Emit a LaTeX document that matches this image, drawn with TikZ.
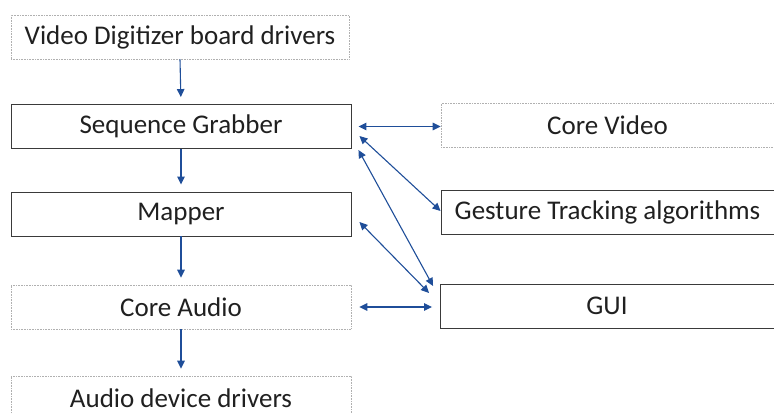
\documentclass[tikz,border=0pt]{standalone}
\usepackage{fontspec}
\setmainfont{Carlito}
\usetikzlibrary{arrows.meta,calc}
\definecolor{linkblue}{HTML}{1F4E99}
\definecolor{boxgray}{HTML}{3A3A3A}
\definecolor{dotgray}{HTML}{B0B0B0}
\definecolor{txt}{HTML}{202020}
\tikzset{
  box/.style={draw=boxgray, line width=0.9pt, minimum height=44pt, inner sep=0pt,
    font=\fontsize{27}{30}\selectfont, text=txt},
  ghostbox/.style={box, draw=dotgray, line width=0.6pt, densely dotted},
  tip/.style={},
  link/.style={draw=linkblue, line width=1.1pt, -{Triangle[length=8pt,width=7.5pt]}, shorten >=7pt},
  dlink/.style={draw=linkblue, line width=1.1pt, {Triangle[length=8pt,width=7.5pt]}-{Triangle[length=8pt,width=7.5pt]}}
}
\begin{document}
\begin{tikzpicture}[x=1pt,y=-1pt]
\useasboundingbox (0,0) rectangle (774,414);
% left column
\node[ghostbox, minimum width=338pt] (vdb) at (180,37) {Video Digitizer board drivers};
\node[box, minimum width=340pt] (sg) at (181,126.5) {Sequence Grabber};
\node[box, minimum width=340pt] (map) at (181,214) {Mapper};
\node[ghostbox, minimum width=340pt] (ca) at (181,307) {Core Audio};
\node[ghostbox, minimum width=340pt] (adr) at (181,398) {Audio device drivers};
% right column
\node[ghostbox, minimum width=333pt] (cv) at (607.5,125.5) {Core Video};
\node[box, minimum width=333pt] (gt) at (607.5,212) {Gesture Tracking algorithms};
\node[box, minimum width=334pt] (gui) at (607,306) {GUI};
% vertical flow
\draw[link] (vdb.south) -- (sg.north);
\draw[link] (sg.south) -- (map.north);
\draw[link] (map.south) -- (ca.north);
\draw[link] (ca.south) -- (adr.north);
% end points of the links to the right column
\coordinate (sgR1) at ($(sg.east)+(7,0)$);
\coordinate (sgR2) at ($(sg.east)+(8,9.5)$);
\coordinate (sgR3) at ($(sg.east)+(7,23.5)$);
\coordinate (mapR) at ($(map.east)+(8,8)$);
\coordinate (caR) at ($(ca.east)+(8,0)$);
\coordinate (cvL) at ($(cv.west)+(0,1)$);
\coordinate (gtL) at ($(gt.west)+(0,-1)$);
\coordinate (guiL1) at ($(gui.west)+(-6.5,-20)$);
\coordinate (guiL2) at ($(gui.west)+(-10.5,-13)$);
\coordinate (guiL3) at ($(gui.west)+(-7.5,1)$);
\draw[dlink] (sgR1) -- (cvL);
\draw[dlink] (sgR2) -- (gtL);
\draw[dlink] (sgR3) -- (guiL1);
\draw[dlink] (mapR) -- (guiL2);
\draw[dlink] (caR) -- (guiL3);
\end{tikzpicture}
\end{document}
